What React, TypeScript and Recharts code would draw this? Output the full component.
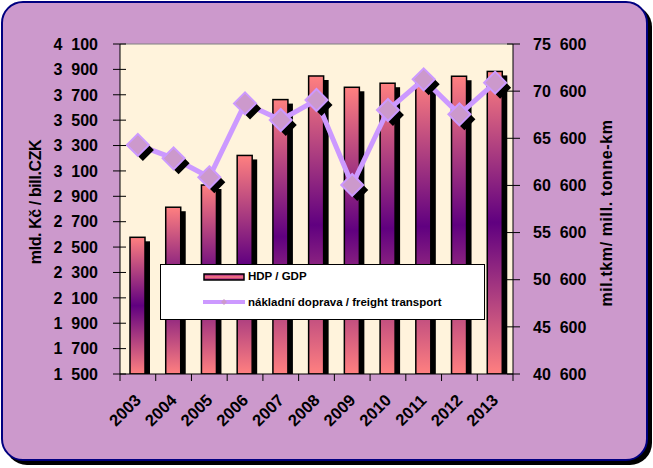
import React from 'react'
import { ComposedChart, Bar, Line, XAxis, YAxis, CartesianGrid, ReferenceLine, Legend } from 'recharts'

const YEARS = ['2003', '2004', '2005', '2006', '2007', '2008', '2009', '2010', '2011', '2012', '2013']
const GDP = [2577, 2814, 2989, 3222, 3662, 3848, 3759, 3791, 3823, 3846, 3884]
const FREIGHT = [64900, 63470, 61460, 69300, 67540, 69660, 60650, 68600, 71850, 68140, 71500]
const LEFT_TICKS = [1500, 1700, 1900, 2100, 2300, 2500, 2700, 2900, 3100, 3300, 3500, 3700, 3900, 4100]
const RIGHT_TICKS = [40600, 45600, 50600, 55600, 60600, 65600, 70600, 75600]

const data = YEARS.map((year, i) => ({ year, gdp: GDP[i], freight: FREIGHT[i] }))

const W = 653
const H = 468
const PLOT_L = 120
const PLOT_R = 513
const BAND = (PLOT_R - PLOT_L) / YEARS.length
const FONT = '"Liberation Sans", Arial, sans-serif'

// "4 100" style with a wide gap like the original
const fmt = (v: number) => {
  const s = String(v)
  return s.slice(0, -3) + '\u00a0\u00a0' + s.slice(-3)
}

const LeftTick = ({ x, y, payload }: any) => (
  <g>
    <line x1={x - 7} x2={x + 6} y1={y} y2={y} stroke="#000" />
    <text x={x - 22} y={y} dy="0.36em" textAnchor="end" fontSize={16} fontWeight="bold" fontFamily={FONT} fill="#000">
      {fmt(payload.value)}
    </text>
  </g>
)

const RightTick = ({ x, y, payload }: any) => (
  <g>
    <line x1={x - 6} x2={x + 7} y1={y} y2={y} stroke="#000" />
    <text x={x + 20} y={y} dy="0.36em" textAnchor="start" fontSize={16} fontWeight="bold" fontFamily={FONT} fill="#000">
      {fmt(payload.value)}
    </text>
  </g>
)

const YearTick = ({ x, y, payload, index }: any) => (
  <g>
    <line x1={x - BAND / 2} x2={x - BAND / 2} y1={y} y2={y + 7} stroke="#000" />
    {index === YEARS.length - 1 && <line x1={x + BAND / 2} x2={x + BAND / 2} y1={y} y2={y + 7} stroke="#000" />}
    <g transform={`translate(${x - 13},${y + 36}) rotate(-45)`}>
      <text textAnchor="middle" dy="0.36em" fontSize={16.5} fontWeight="bold" fontFamily={FONT} fill="#000">
        {payload.value}
      </text>
    </g>
  </g>
)

const BarShape = (props: any) => {
  const { x, y, width, height } = props
  return (
    <g>
      <rect x={x + 5} y={y + 4} width={width} height={Math.max(height - 4, 0)} fill="#000" />
      <rect x={x} y={y} width={width} height={height} fill="url(#barGrad)" stroke="#000" strokeWidth={1.5} />
    </g>
  )
}

const diamond = (cx: number, cy: number, r: number) =>
  `M${cx},${cy - r} L${cx + r},${cy} L${cx},${cy + r} L${cx - r},${cy} Z`

const Marker = (props: any) => {
  const { cx, cy, index } = props
  return (
    <g key={`m-${index}`}>
      <path d={diamond(cx + 5, cy + 5, 11)} fill="#000" />
      <path d={diamond(cx, cy, 11)} fill="#CC99CC" stroke="#CC99FF" strokeWidth={2} />
    </g>
  )
}

const LegendBox = () => (
  <div
    style={{
      position: 'relative',
      width: 325,
      height: 56,
      boxSizing: 'border-box',
      background: '#fff',
      border: '1px solid #000',
      fontFamily: FONT,
      fontWeight: 'bold',
      fontSize: 11.5,
      color: '#000',
    }}
  >
    <svg width={46} height={50} style={{ position: 'absolute', left: 40, top: 2 }}>
      <defs>
        <linearGradient id="legGrad" x1="0" y1="0" x2="0" y2="1">
          <stop offset="0%" stopColor="#800080" />
          <stop offset="50%" stopColor="#FF8080" />
          <stop offset="100%" stopColor="#800080" />
        </linearGradient>
      </defs>
      <rect x={3} y={7} width={40} height={6} fill="url(#legGrad)" stroke="#000" strokeWidth={1.5} />
      <line x1={2} x2={44} y1={35} y2={35} stroke="#CC99FF" strokeWidth={4} />
      <path d={diamond(23, 35, 3)} fill="#CC99CC" />
    </svg>
    <span style={{ position: 'absolute', left: 87, top: 5, whiteSpace: 'nowrap' }}>HDP / GDP</span>
    <span style={{ position: 'absolute', left: 87, top: 31, whiteSpace: 'nowrap' }}>nákladní doprava / freight transport</span>
  </div>
)

export default function App() {
  return (
    <div style={{ position: 'absolute', left: 0, top: 0, width: W, height: H, overflow: 'hidden', fontFamily: FONT }}>
      <div
        style={{
          position: 'absolute',
          left: 1,
          top: 1,
          width: 643,
          height: 456,
          background: '#CC99CC',
          border: '2px solid #000080',
          borderRadius: 22,
          boxShadow: '4px 4px 0 #000',
        }}
      />
      <div style={{ position: 'absolute', left: 0, top: 0 }}>
        <ComposedChart width={W} height={H} data={data} margin={{ top: 44, right: 0, bottom: 0, left: 0 }}>
          <defs>
            <linearGradient id="barGrad" x1="0" y1="0" x2="0" y2="1">
              <stop offset="0%" stopColor="#FF8080" />
              <stop offset="50%" stopColor="#600080" />
              <stop offset="100%" stopColor="#FF8080" />
            </linearGradient>
          </defs>
          <CartesianGrid fill="#FFF3DC" vertical={false} horizontal={false} />
          <XAxis
            dataKey="year"
            height={94}
            interval={0}
            tickSize={0}
            tickMargin={0}
            tick={<YearTick />}
            axisLine={{ stroke: '#000' }}
            tickLine={false}
          />
          <YAxis
            yAxisId="left"
            width={120}
            domain={[1500, 4100]}
            ticks={LEFT_TICKS}
            interval={0}
            tickSize={0}
            tickMargin={0}
            tick={<LeftTick />}
            axisLine={{ stroke: '#000' }}
            tickLine={false}
            allowDataOverflow
          />
          <YAxis
            yAxisId="right"
            orientation="right"
            width={140}
            domain={[40600, 75600]}
            ticks={RIGHT_TICKS}
            interval={0}
            tickSize={0}
            tickMargin={0}
            tick={<RightTick />}
            axisLine={{ stroke: '#000' }}
            tickLine={false}
            allowDataOverflow
          />
          <ReferenceLine yAxisId="left" y={4100} stroke="#808080" />
          <Bar
            yAxisId="left"
            dataKey="gdp"
            name="HDP / GDP"
            barSize={15}
            shape={BarShape}
            isAnimationActive={false}
          />
          <Line
            yAxisId="right"
            type="linear"
            dataKey="freight"
            name="nákladní doprava / freight transport"
            stroke="#CC99FF"
            strokeWidth={5}
            dot={Marker}
            activeDot={false}
            isAnimationActive={false}
          />
          <Legend
            layout="vertical"
            align="center"
            verticalAlign="middle"
            content={<LegendBox />}
            wrapperStyle={{ position: 'absolute', left: 160, top: 264, width: 325, height: 56 }}
          />
        </ComposedChart>
      </div>
      <div
        style={{
          position: 'absolute',
          left: 36,
          top: 202,
          transform: 'translate(-50%, -50%) rotate(-90deg)',
          whiteSpace: 'nowrap',
          fontSize: 16,
          letterSpacing: -0.4,
          fontWeight: 'bold',
          color: '#000',
        }}
      >
        mld. Kč / bill.CZK
      </div>
      <div
        style={{
          position: 'absolute',
          left: 607,
          top: 213,
          transform: 'translate(-50%, -50%) rotate(-90deg)',
          whiteSpace: 'nowrap',
          fontSize: 16,
          letterSpacing: 0.6,
          fontWeight: 'bold',
          color: '#000',
        }}
      >
        mil.tkm/ mill. tonne-km
      </div>
    </div>
  )
}
